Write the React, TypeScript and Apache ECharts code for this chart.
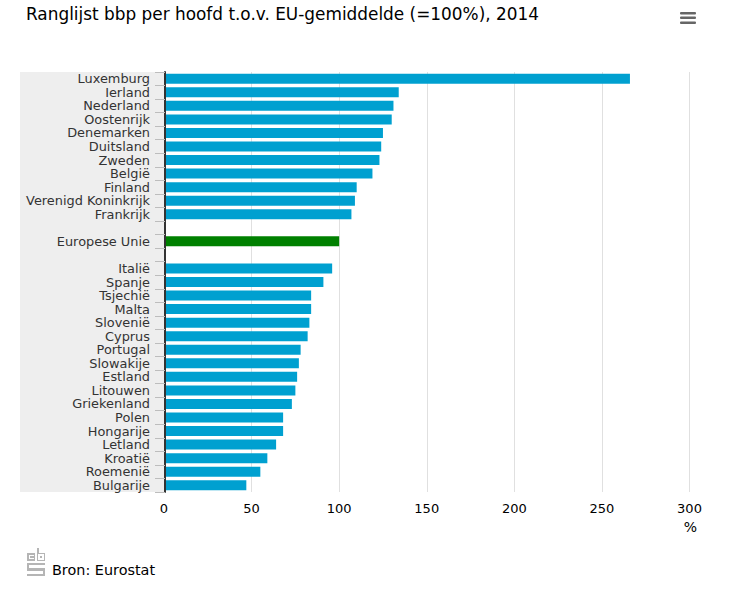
import React, { useEffect, useRef } from "react";
import * as echarts from "echarts";

const categories = ["Luxemburg","Ierland","Nederland","Oostenrijk","Denemarken","Duitsland","Zweden","België","Finland","Verenigd Koninkrijk","Frankrijk","","Europese Unie"," ","Italië","Spanje","Tsjechië","Malta","Slovenië","Cyprus","Portugal","Slowakije","Estland","Litouwen","Griekenland","Polen","Hongarije","Letland","Kroatië","Roemenië","Bulgarije"];
const values: (number | null)[] = [266,134,131,130,125,124,123,119,110,109,107,null,100,null,96,91,84,84,83,82,78,77,76,75,73,68,68,64,59,55,47];
const highlighted = "Europese Unie";
const xTicks = { min: 0, max: 300, interval: 50 };
const FONT = "'DejaVu Sans', Verdana, sans-serif";

const logoPath =
  "M0 5H8V13H0ZM2 7V11H7V10H3V8H7V7Z " +
  "M10 0H12V5H18V13H10ZM11 1V12H17V6H11ZM13 8V10H15V8Z " +
  "M0 15H18V17H2V20H18V28H0V26H16V23H0Z";
echarts.graphic.registerShape("cbsLogo", echarts.graphic.extendPath(logoPath, {}));

export default function App() {
  const ref = useRef<HTMLDivElement>(null);
  useEffect(() => {
    const chart = echarts.init(ref.current!, undefined, { renderer: "svg" });
    chart.setOption({
      animation: false,
      backgroundColor: "#fff",
      grid: { left: 164, width: 525.5, top: 72, height: 420 },
      xAxis: {
        type: "value", ...xTicks,
        axisLine: { show: false }, axisTick: { show: false },
        axisLabel: { color: "#000", fontFamily: FONT, fontSize: 13, margin: 10 },
        splitLine: { show: true, lineStyle: { color: "#e0e0e0", width: 1 } },
      },
      yAxis: {
        type: "category", inverse: true, data: categories, offset: -1, z: 10,
        axisLine: { show: true, onZero: false, lineStyle: { color: "#333", width: 2 } },
        axisTick: { show: true, inside: false, length: 10, alignWithLabel: false, lineStyle: { color: "#bdbdbd", width: 1 } },
        axisLabel: { color: "#333", fontFamily: FONT, fontSize: 12.9, margin: 15, interval: 0, padding: [4, 0, 0, 0] },
      },
      series: [{
        type: "bar", barWidth: 10, z: 3,
        data: values.map((v, i) => ({ value: v, itemStyle: { color: categories[i] === highlighted ? "#008000" : "#00a0d0" } })),
      }],
      graphic: [
        { type: "rect", z: -1, shape: { x: 20, y: 72, width: 145, height: 420 }, style: { fill: "#eeeeee" } },
        { type: "text", x: 26, y: 5, style: { text: "Ranglijst bbp per hoofd t.o.v. EU-gemiddelde (=100%), 2014", fill: "#000", font: `16.9px ${FONT}` } },
        { type: "text", x: 697, y: 520, style: { text: "%", fill: "#000", font: `14px ${FONT}`, align: "right" } },
        { type: "text", x: 52, y: 563, style: { text: "Bron: Eurostat", fill: "#000", font: `14.4px ${FONT}` } },
        { type: "cbsLogo", x: 27, y: 548, style: { fill: "#b5b5b5" } },
        { type: "rect", shape: { x: 680, y: 12, width: 16, height: 2.5, r: 1 }, style: { fill: "#666" } },
        { type: "rect", shape: { x: 680, y: 16.5, width: 16, height: 2.5, r: 1 }, style: { fill: "#666" } },
        { type: "rect", shape: { x: 680, y: 21.5, width: 16, height: 2.5, r: 1 }, style: { fill: "#666" } },
      ],
    });
    return () => chart.dispose();
  }, []);
  return <div ref={ref} style={{ position: "absolute", left: 0, top: 0, width: 729, height: 589 }} />;
}
